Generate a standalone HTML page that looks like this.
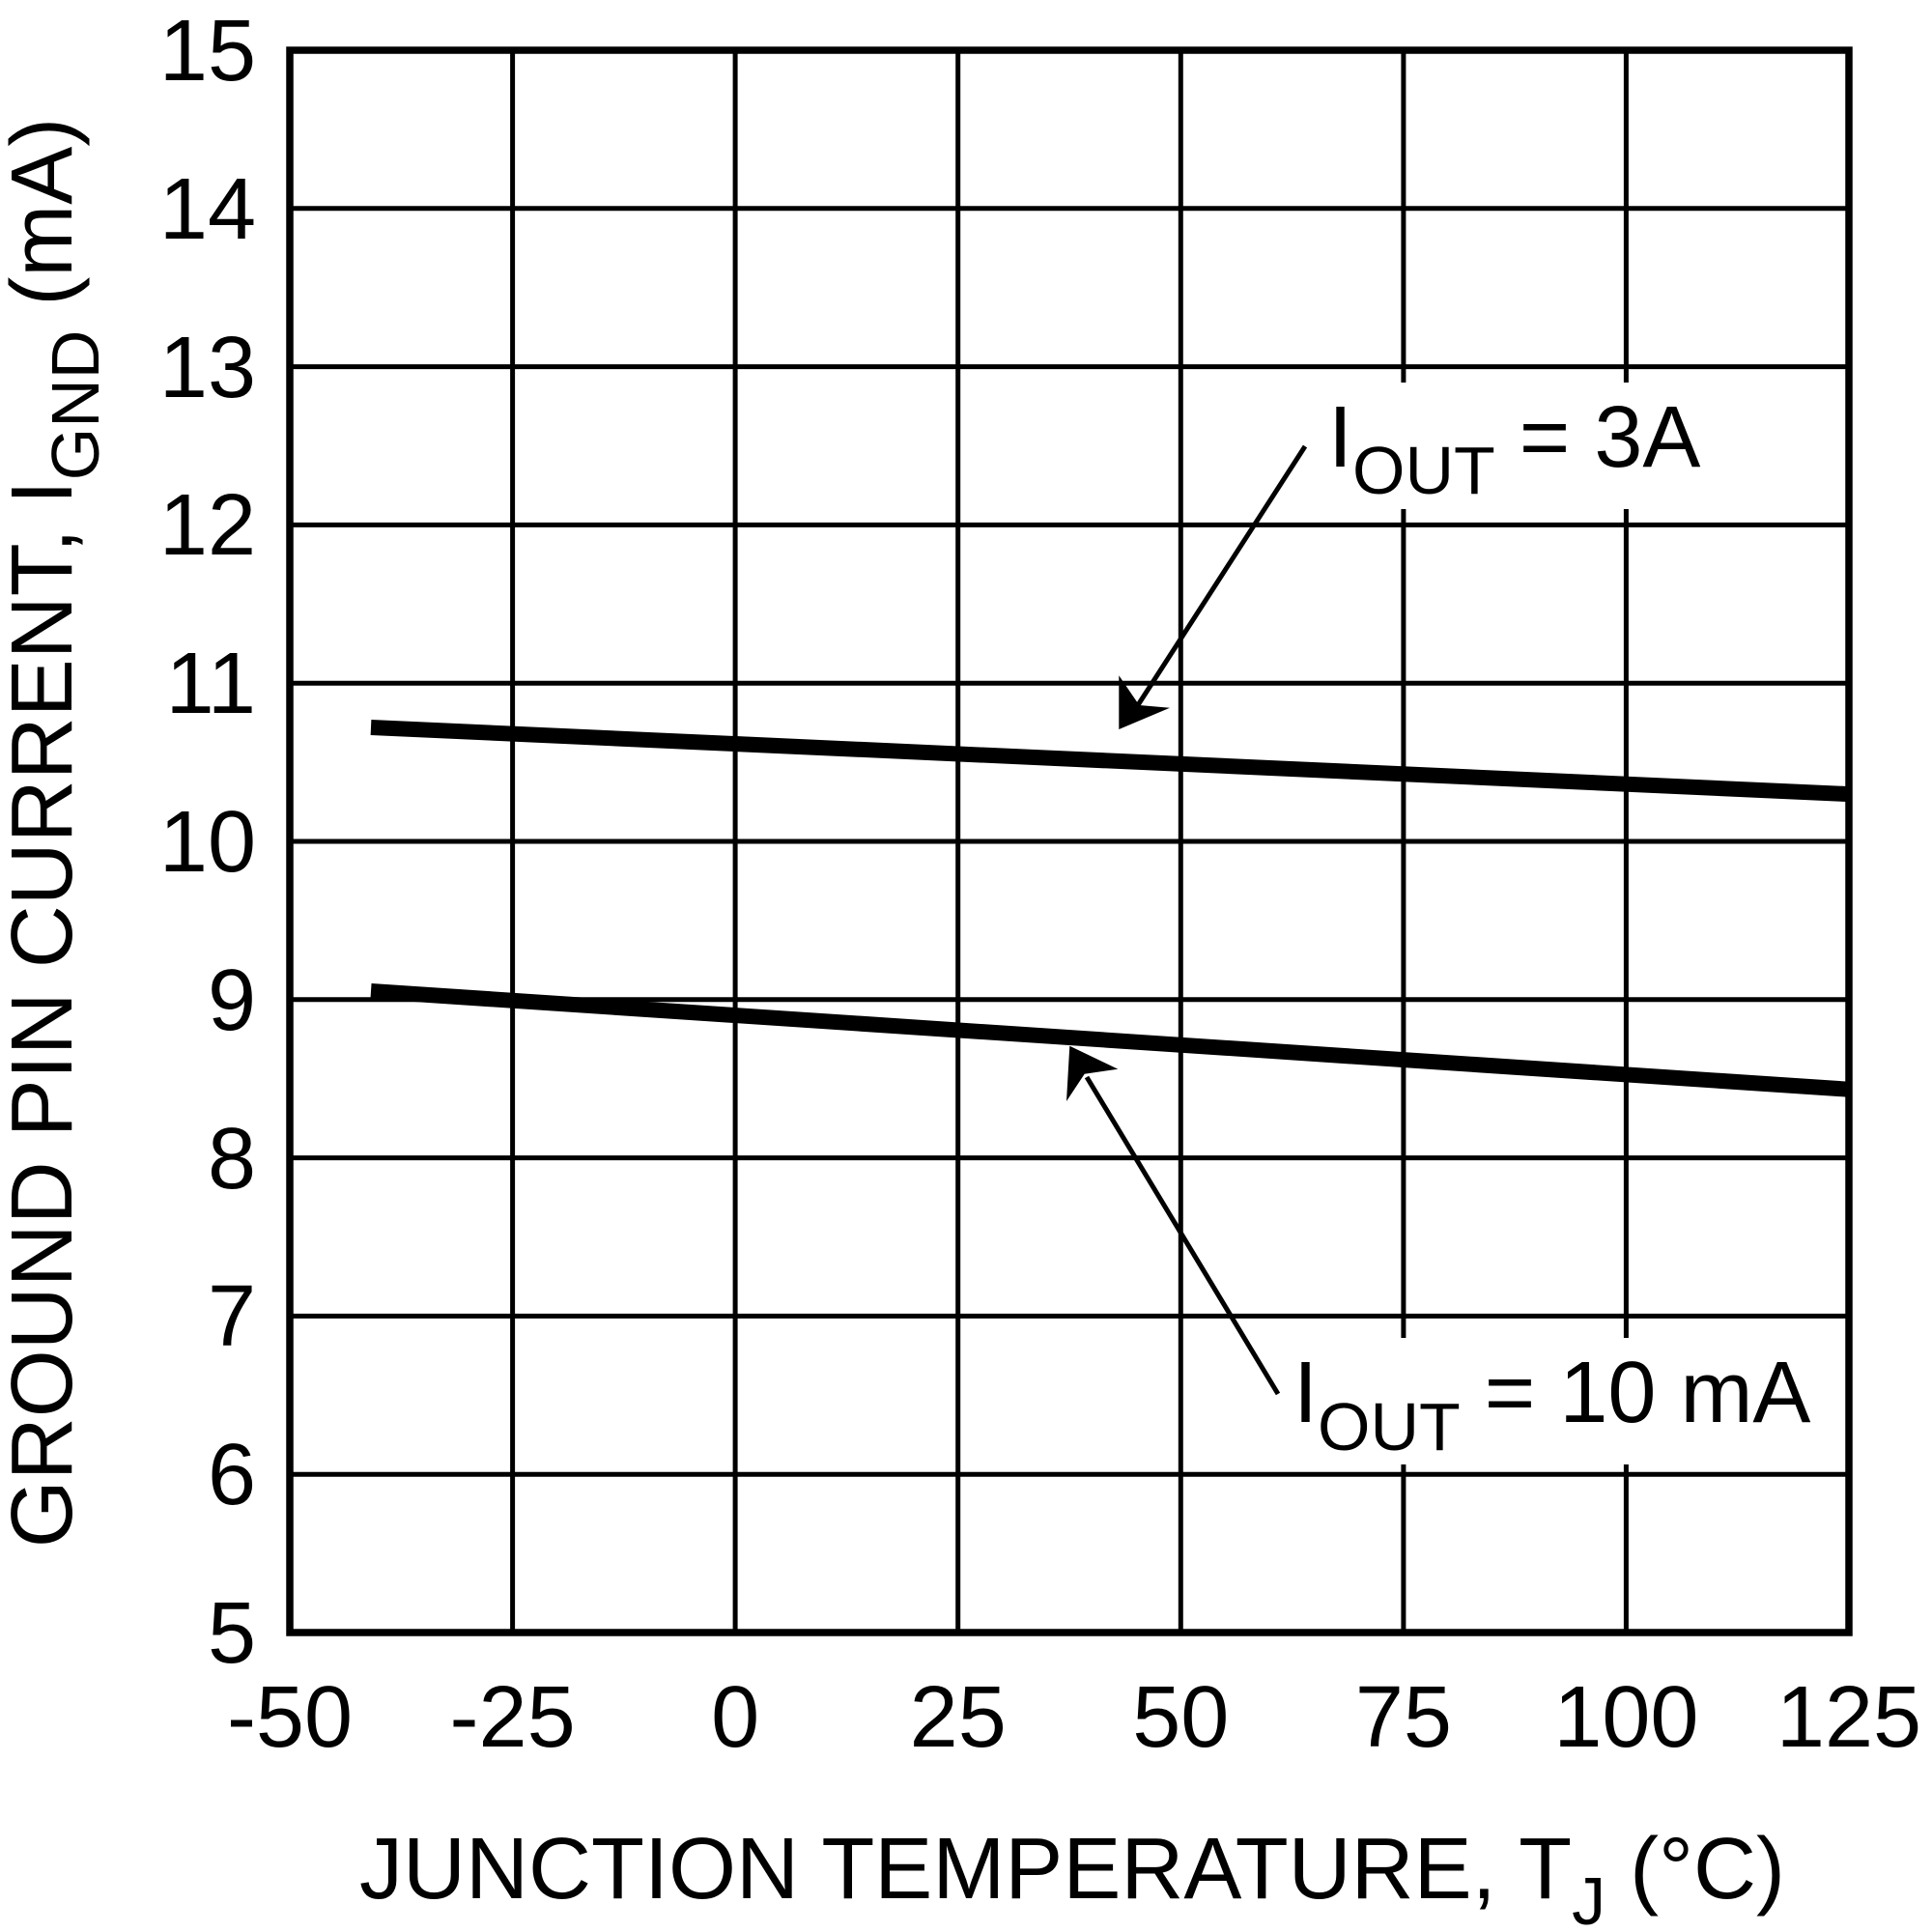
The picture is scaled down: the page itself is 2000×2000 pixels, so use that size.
<!DOCTYPE html>
<html>
<head>
<meta charset="utf-8">
<style>
  html, body { margin: 0; padding: 0; background: #ffffff; }
  svg { display: block; }
  text { font-family: "Liberation Sans", Arial, sans-serif; fill: #000; }
</style>
</head>
<body>
<svg width="2000" height="2000" viewBox="0 0 2000 2000" xmlns="http://www.w3.org/2000/svg">
  <rect x="0" y="0" width="2000" height="2000" fill="#ffffff"/>

  <!-- vertical gridlines -->
  <g stroke="#000" stroke-width="5">
    <line x1="530.6" y1="52" x2="530.6" y2="1690"/>
    <line x1="761.1" y1="52" x2="761.1" y2="1690"/>
    <line x1="991.7" y1="52" x2="991.7" y2="1690"/>
    <line x1="1222.3" y1="52" x2="1222.3" y2="1690"/>
    <line x1="1452.9" y1="52" x2="1452.9" y2="1690"/>
    <line x1="1683.4" y1="52" x2="1683.4" y2="1690"/>
    <!-- horizontal gridlines -->
    <line x1="300" y1="215.8" x2="1914" y2="215.8"/>
    <line x1="300" y1="379.6" x2="1914" y2="379.6"/>
    <line x1="300" y1="543.4" x2="1914" y2="543.4"/>
    <line x1="300" y1="707.2" x2="1914" y2="707.2"/>
    <line x1="300" y1="871" x2="1914" y2="871"/>
    <line x1="300" y1="1034.8" x2="1914" y2="1034.8"/>
    <line x1="300" y1="1198.6" x2="1914" y2="1198.6"/>
    <line x1="300" y1="1362.4" x2="1914" y2="1362.4"/>
    <line x1="300" y1="1526.2" x2="1914" y2="1526.2"/>
  </g>

  <!-- white label boxes -->
  <rect x="1365" y="396" width="410" height="131" fill="#fff"/>
  <rect x="1335" y="1385" width="555" height="131" fill="#fff"/>

  <!-- curves -->
  <g stroke="#000" stroke-width="16" stroke-linecap="butt" fill="none">
    <line x1="384" y1="753" x2="1912" y2="822"/>
    <line x1="384" y1="1026" x2="1912" y2="1127.6"/>
  </g>

  <!-- arrows -->
  <g stroke="#000" stroke-width="5" fill="none">
    <line x1="1351" y1="462" x2="1176" y2="733"/>
    <line x1="1323" y1="1443" x2="1125" y2="1115"/>
  </g>
  <polygon points="1158.3,755 1158.3,699.3 1179.3,730 1211,732.7" fill="#000"/>
  <polygon points="1107.3,1082.7 1157.3,1106.7 1122.7,1111.7 1104,1140" fill="#000"/>

  <!-- plot border -->
  <rect x="300" y="52" width="1614" height="1638" fill="none" stroke="#000" stroke-width="7.5"/>

  <!-- y tick labels -->
  <g font-size="90" text-anchor="end">
    <text x="265" y="83">15</text>
    <text x="265" y="247">14</text>
    <text x="265" y="411">13</text>
    <text x="265" y="574">12</text>
    <text x="265" y="738">11</text>
    <text x="265" y="902">10</text>
    <text x="265" y="1066">9</text>
    <text x="265" y="1230">8</text>
    <text x="265" y="1393">7</text>
    <text x="265" y="1557">6</text>
    <text x="265" y="1721">5</text>
  </g>

  <!-- x tick labels -->
  <g font-size="90" text-anchor="middle">
    <text x="300" y="1808">-50</text>
    <text x="530.6" y="1808">-25</text>
    <text x="761.1" y="1808">0</text>
    <text x="991.7" y="1808">25</text>
    <text x="1222.3" y="1808">50</text>
    <text x="1452.9" y="1808">75</text>
    <text x="1683.4" y="1808">100</text>
    <text x="1914" y="1808">125</text>
  </g>

  <!-- x axis title -->
  <text x="1110" y="1965" font-size="90" text-anchor="middle">JUNCTION TEMPERATURE, T<tspan font-size="70" dy="27">J</tspan><tspan dy="-27"> (°C)</tspan></text>

  <!-- y axis title -->
  <text transform="translate(74,862) rotate(-90)" x="0" y="0" font-size="90" text-anchor="middle">GROUND PIN CURRENT, I<tspan font-size="70" dy="28">GND</tspan><tspan dy="-28"> (mA)</tspan></text>

  <!-- annotations -->
  <text x="1375" y="483" font-size="90">I<tspan font-size="70" dy="28">OUT</tspan><tspan dy="-28"> = 3A</tspan></text>
  <text x="1339" y="1472" font-size="90">I<tspan font-size="70" dy="29">OUT</tspan><tspan dy="-29"> = 10 mA</tspan></text>
</svg>
</body>
</html>
